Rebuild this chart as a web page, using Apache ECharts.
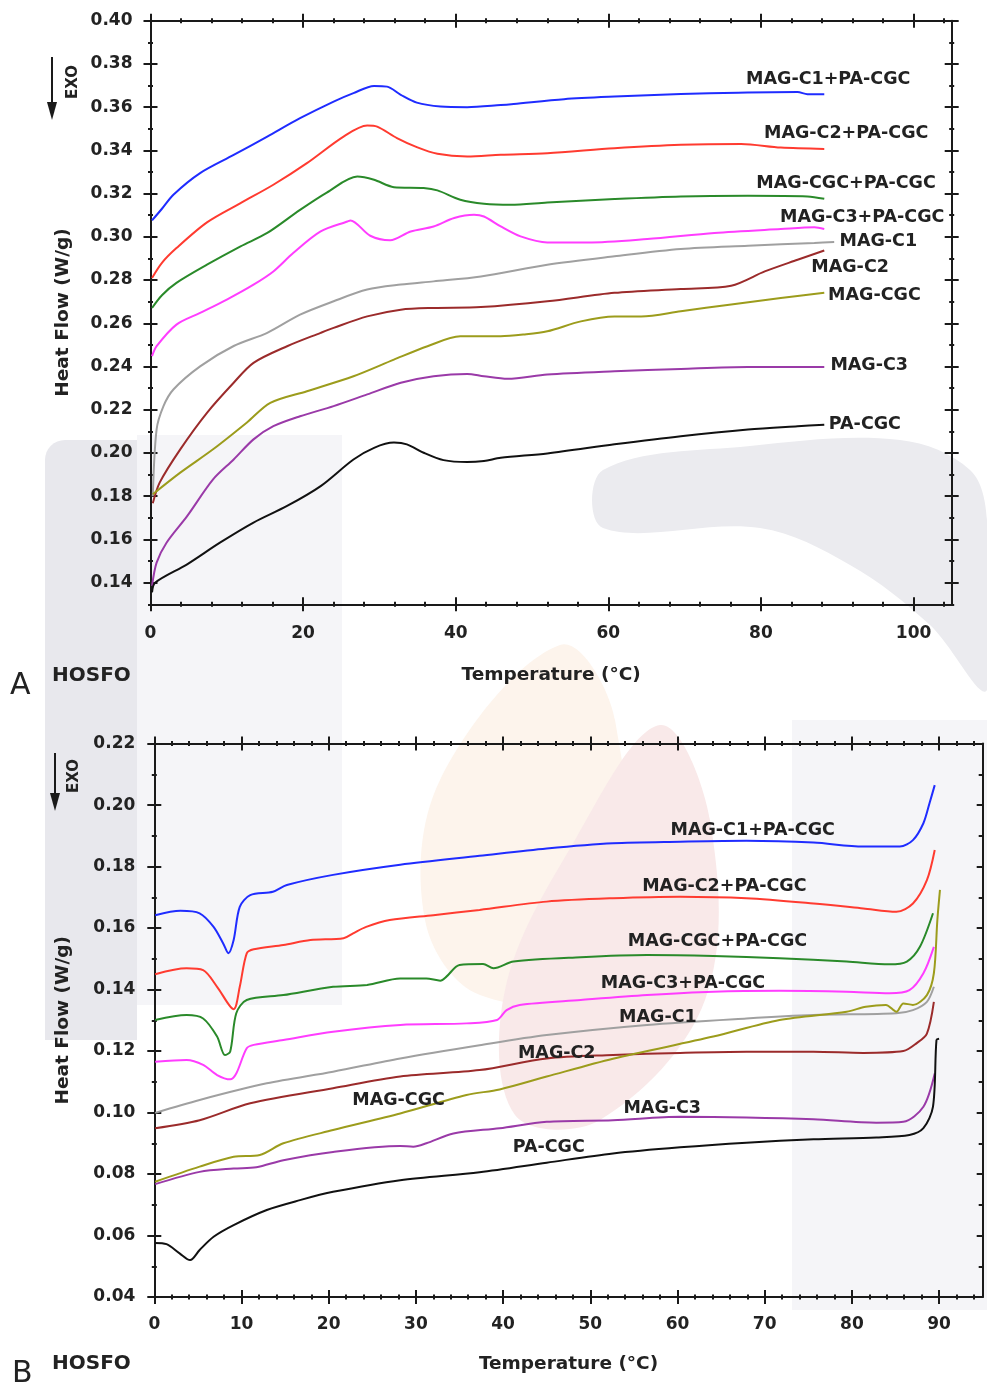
<!DOCTYPE html>
<html>
<head>
<meta charset="utf-8">
<script src="https://cdn.jsdelivr.net/npm/echarts@6/dist/echarts.min.js"></script>
<style>
html,body{margin:0;padding:0;background:#fff;}
#chart{width:987px;height:1385px;}
</style>
</head>
<body>
<div id="chart"></div>
<script>
// ---------- Panel A (top) ----------
const aXTicks = [0, 20, 40, 60, 80, 100];
const aXMinor = [0,4,8,12,16,20,24,28,32,36,40,44,48,52,56,60,64,68,72,76,80,84,88,92,96,100,104];
const aYTicks = [0.14,0.16,0.18,0.20,0.22,0.24,0.26,0.28,0.30,0.32,0.34,0.36,0.38,0.40];
const aYMinor = [0.13,0.15,0.17,0.19,0.21,0.23,0.25,0.27,0.29,0.31,0.33,0.35,0.37,0.39];

const aNames = ['MAG-C1+PA-CGC','MAG-C2+PA-CGC','MAG-CGC+PA-CGC','MAG-C3+PA-CGC','MAG-C1','MAG-C2','MAG-CGC','MAG-C3','PA-CGC'];

const aMagC1Pa = [[0.2,0.3076],[1.5,0.313],[3.0,0.3195],[6.5,0.3295],[10.9,0.3379],[15.3,0.3464],[19.6,0.3549],[24.0,0.3626],[26.6,0.3665],[29.3,0.3698],[31.0,0.3695],[32.8,0.3657],[34.9,0.3621],[38.0,0.3603],[41.5,0.360],[45.9,0.361],[47.6,0.3615],[54.2,0.3637],[60.8,0.3649],[69.5,0.3661],[77.0,0.3667],[84.8,0.367],[86.1,0.366],[88.3,0.366]];
const aMagC2Pa = [[0.2,0.281],[1.5,0.288],[3.4,0.2948],[7.4,0.3067],[11.8,0.3156],[16.1,0.3241],[20.5,0.3341],[25.3,0.3464],[28.4,0.3515],[29.7,0.351],[32.3,0.3457],[34.9,0.3415],[37.6,0.3384],[41.5,0.3372],[45.9,0.338],[52.0,0.3387],[60.8,0.341],[69.5,0.3426],[77.4,0.343],[82.6,0.3413],[88.3,0.3407]];
const aMagCgcPa = [[0.2,0.2671],[1.5,0.273],[3.4,0.2787],[7.4,0.2871],[11.8,0.2956],[15.3,0.3018],[19.6,0.3125],[23.1,0.3205],[27.1,0.3279],[29.3,0.3264],[31.9,0.323],[35.8,0.3226],[37.6,0.3215],[40.6,0.3172],[43.7,0.3153],[47.2,0.3148],[52.0,0.3159],[60.8,0.3175],[69.5,0.3187],[78.3,0.319],[86.1,0.3187],[88.3,0.3176]];
const aMagC3Pa = [[0.2,0.2448],[0.8,0.2494],[3.4,0.2594],[6.5,0.2648],[10.0,0.271],[13.5,0.2779],[16.1,0.284],[18.7,0.2925],[22.3,0.3025],[25.8,0.3071],[26.2,0.3076],[28.8,0.3005],[31.4,0.2984],[34.1,0.3025],[37.1,0.3048],[39.8,0.3087],[42.4,0.3102],[43.7,0.3094],[45.9,0.3048],[48.5,0.3002],[52.0,0.2974],[57.3,0.2974],[65.1,0.299],[73.9,0.3018],[82.6,0.3036],[87.0,0.3044],[88.3,0.3036]];
const aMagC1 = [[0.3,0.180],[0.8,0.2109],[1.7,0.2217],[3.0,0.2294],[6.5,0.2401],[10.9,0.2495],[15.3,0.2556],[19.6,0.264],[24.0,0.2702],[28.4,0.2756],[32.8,0.2779],[37.1,0.2794],[43.3,0.2817],[52.0,0.2871],[60.8,0.291],[69.5,0.2944],[78.3,0.2959],[87.0,0.2972],[89.6,0.2976]];
const aMagC2 = [[0.3,0.1767],[1.2,0.1863],[3.9,0.2017],[7.4,0.2186],[10.9,0.2325],[13.5,0.2417],[17.9,0.2494],[22.3,0.2556],[24.0,0.2579],[28.4,0.2632],[32.8,0.2663],[37.1,0.2671],[43.3,0.2675],[52.0,0.2702],[60.8,0.2741],[69.5,0.2759],[76.1,0.2774],[80.5,0.284],[84.8,0.2894],[88.3,0.2937]];
const aMagCgc = [[0.3,0.1809],[3.9,0.1909],[8.2,0.2017],[12.6,0.214],[15.7,0.2232],[20.5,0.2286],[26.6,0.2355],[31.9,0.2432],[36.3,0.2494],[40.6,0.254],[45.9,0.254],[48.9,0.2548],[52.0,0.2563],[56.4,0.2609],[60.8,0.2632],[64.3,0.2632],[69.5,0.2656],[76.1,0.2687],[82.6,0.2717],[88.3,0.2741]];
const aMagC3 = [[0.2,0.1385],[0.8,0.1493],[2.1,0.1585],[4.8,0.1708],[8.2,0.1878],[10.9,0.197],[13.5,0.2063],[16.1,0.2124],[19.6,0.217],[24.0,0.2217],[28.4,0.2271],[32.8,0.2325],[37.1,0.2355],[41.5,0.2366],[43.7,0.2355],[46.8,0.2343],[52.0,0.2363],[60.8,0.2378],[69.5,0.2389],[78.3,0.2398],[88.3,0.2398]];
const aPaCgc = [[0.2,0.1355],[0.6,0.14],[4.8,0.1485],[9.1,0.1585],[13.5,0.1678],[17.9,0.1755],[22.3,0.1847],[26.6,0.197],[29.3,0.2024],[31.9,0.2048],[33.6,0.204],[35.8,0.2001],[38.4,0.1967],[41.5,0.1958],[43.7,0.1963],[45.9,0.1978],[52.0,0.1998],[60.8,0.204],[69.5,0.2078],[78.3,0.2109],[84.8,0.2124],[88.3,0.2131]];
// label anchor (left end, vertical middle) in data units
const aLabelAt = [[78.05,0.3726],[80.4,0.3477],[79.4,0.3246],[82.5,0.3088],[90.3,0.2977],[86.6,0.2857],[88.8,0.2728],[89.1,0.2405],[88.9,0.2132]];

// ---------- Panel B (bottom) ----------
const bXTicks = [0,10,20,30,40,50,60,70,80,90];
const bXMinor = [0,2,4,6,8,10,12,14,16,18,20,22,24,26,28,30,32,34,36,38,40,42,44,46,48,50,52,54,56,58,60,62,64,66,68,70,72,74,76,78,80,82,84,86,88,90,92,94];
const bYTicks = [0.04,0.06,0.08,0.10,0.12,0.14,0.16,0.18,0.20,0.22];
const bYMinor = [0.05,0.07,0.09,0.11,0.13,0.15,0.17,0.19,0.21];

const bMagC1Pa = [[0.1,0.1642],[3.0,0.1656],[5.2,0.1648],[6.8,0.1604],[7.9,0.155],[8.5,0.1518],[9.1,0.1561],[9.8,0.1669],[11.0,0.1707],[13.6,0.1718],[15.2,0.174],[20.5,0.1773],[28.2,0.1806],[37.3,0.1835],[45.0,0.1859],[52.6,0.1876],[60.3,0.1881],[67.9,0.1884],[75.6,0.1878],[81.3,0.1865],[85.5,0.1865],[87.0,0.1886],[88.2,0.1941],[88.9,0.2006],[89.5,0.2065]];
const bMagC2Pa = [[0.1,0.145],[3.7,0.1469],[5.6,0.1463],[7.2,0.1409],[9.1,0.1336],[9.8,0.1409],[10.6,0.1518],[11.4,0.1531],[14.8,0.1545],[17.9,0.1561],[21.7,0.1567],[22.8,0.1583],[24.3,0.1604],[27.0,0.1626],[32.0,0.1642],[37.3,0.1659],[45.0,0.1686],[52.6,0.1697],[60.3,0.1702],[67.9,0.1697],[75.6,0.168],[81.3,0.1664],[85.1,0.1653],[87.0,0.168],[88.6,0.1756],[89.5,0.1854]];
const bMagCgcPa = [[0.1,0.1301],[3.7,0.1317],[5.6,0.1306],[7.2,0.1247],[8.1,0.1187],[8.7,0.1198],[9.4,0.1323],[10.6,0.1366],[14.8,0.1382],[20.5,0.1409],[24.4,0.1415],[28.2,0.1436],[31.2,0.1436],[32.8,0.1429],[33.5,0.1442],[35.0,0.148],[37.7,0.1483],[38.9,0.1469],[41.2,0.1491],[48.9,0.1505],[56.5,0.1512],[64.1,0.1509],[71.7,0.1502],[79.4,0.1491],[84.3,0.1482],[86.3,0.1491],[87.8,0.1539],[89.3,0.1648]];
const bMagC3Pa = [[0.1,0.1165],[3.7,0.1171],[5.6,0.1155],[7.2,0.1122],[8.7,0.1108],[9.4,0.1127],[10.6,0.1209],[11.4,0.122],[14.8,0.1236],[20.5,0.1263],[28.2,0.1285],[35.8,0.129],[39.3,0.1301],[40.4,0.1333],[41.9,0.135],[48.9,0.1366],[56.5,0.1382],[64.1,0.1393],[71.7,0.1396],[79.4,0.1393],[84.3,0.1388],[86.6,0.1398],[88.2,0.1453],[89.4,0.1539]];
const bMagC1 = [[0.1,0.0999],[5.2,0.1041],[12.9,0.1095],[20.5,0.1133],[28.2,0.1176],[37.3,0.1219],[45.0,0.1252],[56.5,0.1285],[67.9,0.1306],[75.6,0.1317],[85.1,0.1323],[87.0,0.1333],[88.6,0.136],[89.4,0.1409]];
const bMagC2 = [[0.1,0.0949],[5.2,0.0975],[11.0,0.103],[20.5,0.1079],[28.2,0.1117],[37.3,0.1138],[45.0,0.1176],[52.6,0.1187],[60.3,0.1194],[67.9,0.1198],[75.6,0.1198],[81.3,0.1194],[85.9,0.12],[87.4,0.1225],[88.6,0.1257],[89.4,0.136]];
const bMagCgc = [[0.1,0.0775],[5.2,0.0824],[9.1,0.0856],[12.1,0.0862],[14.8,0.09],[20.5,0.0943],[28.2,0.0997],[35.8,0.1057],[39.6,0.1075],[45.0,0.1117],[52.6,0.1175],[64.1,0.1247],[71.7,0.1301],[79.4,0.1328],[81.6,0.1344],[83.9,0.135],[85.1,0.1328],[85.9,0.1355],[87.0,0.135],[88.6,0.1382],[89.4,0.1453],[89.8,0.1626],[90.1,0.1724]];
const bMagC3 = [[0.1,0.0767],[5.2,0.0807],[9.1,0.0818],[11.7,0.0822],[14.8,0.0845],[20.5,0.0872],[28.2,0.0891],[29.7,0.0889],[31.2,0.09],[34.3,0.0932],[39.6,0.0949],[45.0,0.097],[52.6,0.0975],[60.3,0.0986],[67.9,0.0984],[75.6,0.0978],[82.8,0.0967],[85.9,0.097],[88.2,0.1019],[89.5,0.1127]];
const bPaCgc = [[0.1,0.0576],[1.4,0.0572],[2.9,0.0542],[4.1,0.052],[5.2,0.0553],[6.8,0.0596],[9.1,0.0634],[12.9,0.0683],[16.7,0.0715],[20.5,0.0742],[28.2,0.078],[37.3,0.0806],[45.0,0.0837],[52.6,0.0867],[60.3,0.0887],[67.9,0.0902],[75.6,0.0913],[82.8,0.0919],[86.6,0.0927],[88.2,0.0949],[89.3,0.1019],[89.7,0.1236],[90.0,0.124]];
const bLabelAt = [[59.2,0.1919],[55.95,0.1734],[54.3,0.1558],[51.2,0.142],[53.3,0.1308],[41.7,0.1193],[22.7,0.104],[53.8,0.1014],[41.1,0.0885]];

const colors = ['#1f2cff','#ff3b30','#2a8a2a','#ff3dff','#a0a0a0','#9b2b2b','#9c9c1c','#9a3aa8','#111111'];

// ---------- build ----------
const FONT = 'DejaVu Sans';
const AX = '#1a1a1a';
const tickText = {fontFamily: FONT, fontWeight: 'bold', fontSize: 17, color: '#222'};
const PER = 6; // axes per dimension per panel

function axisSet(kind, grid, o) {
  const pos = kind === 'x' ? ['bottom','top'] : ['left','right'];
  const list = [];
  list.push({
    type:'value', gridIndex:grid, position:pos[0], min:o.min, max:o.max,
    axisLine:{show:true, onZero:false, lineStyle:{color:AX, width:2}},
    axisTick:{show:false}, splitLine:{show:false},
    axisLabel:Object.assign({show:true, customValues:o.majors, formatter:o.fmt, margin:o.margin}, tickText),
    name:o.name, nameLocation:'middle', nameGap:o.nameGap,
    nameTextStyle:{fontFamily:FONT, fontWeight:'bold', fontSize:18.5, color:'#222'}
  });
  list.push({
    type:'value', gridIndex:grid, position:pos[1], min:o.min, max:o.max, offset:0,
    axisLine:{show:true, onZero:false, lineStyle:{color:AX, width:2}},
    axisTick:{show:false}, axisLabel:{show:false}, splitLine:{show:false}
  });
  for (let s = 0; s < 2; s++) {
    const inwardOnly = s === 1 && o.oppInward;
    list.push({
      type:'value', gridIndex:grid, position:pos[s], min:o.min, max:o.max,
      offset: inwardOnly ? 0 : -7,
      axisLine:{show:false, onZero:false},
      axisTick:{show:true, inside: inwardOnly, customValues:o.majors, length: inwardOnly ? 6 : 14, lineStyle:{color:AX, width:2}},
      axisLabel:{show:false}, splitLine:{show:false}
    });
    list.push({
      type:'value', gridIndex:grid, position:pos[s], min:o.min, max:o.max,
      offset: inwardOnly ? 0 : -2.5,
      axisLine:{show:false, onZero:false},
      axisTick:{show:true, inside: inwardOnly, customValues:o.minors, length: inwardOnly ? 4 : 5, lineStyle:{color:AX, width:2}},
      axisLabel:{show:false}, splitLine:{show:false}
    });
  }
  return list;
}

const xAxes = [].concat(
  axisSet('x', 0, {min:0, max:105, majors:aXTicks, minors:aXMinor, fmt:v=>String(Math.round(v)), margin:21, name:'Temperature (°C)', nameGap:61}),
  axisSet('x', 1, {min:0, max:95, majors:bXTicks, minors:bXMinor, fmt:v=>String(Math.round(v)), margin:19, name:'Temperature (°C)', nameGap:58})
);
const yAxes = [].concat(
  axisSet('y', 0, {min:0.13, max:0.40, majors:aYTicks, minors:aYMinor, fmt:v=>v.toFixed(2), margin:18, name:'Heat Flow (W/g)', nameGap:78}),
  axisSet('y', 1, {min:0.04, max:0.22, majors:bYTicks, minors:bYMinor, fmt:v=>v.toFixed(2), margin:19, name:'Heat Flow (W/g)', nameGap:82, oppInward:true})
);

const aData = [aMagC1Pa,aMagC2Pa,aMagCgcPa,aMagC3Pa,aMagC1,aMagC2,aMagCgc,aMagC3,aPaCgc];
const bData = [bMagC1Pa,bMagC2Pa,bMagCgcPa,bMagC3Pa,bMagC1,bMagC2,bMagCgc,bMagC3,bPaCgc];

function mkSeries(data, labels, panel) {
  const axIdx = panel * PER;
  return data.map((d, i) => ({
    type:'line', name: aNames[i] + (panel ? ' B' : ' A'),
    xAxisIndex: axIdx, yAxisIndex: axIdx,
    data: d, showSymbol:false, smooth:0.3,
    lineStyle:{color:colors[i], width:2}, itemStyle:{color:colors[i]},
    z: 3,
    markPoint:{
      symbol:'circle', symbolSize:0, silent:true,
      label:{show:true, position:'right', distance:0, formatter:'{b}',
        fontFamily:FONT, fontWeight:'bold', fontSize:17.5, color:'#222'},
      data:[{name:aNames[i], coord:labels[i]}]
    }
  }));
}

const series = [].concat(mkSeries(aData, aLabelAt, 0), mkSeries(bData, bLabelAt, 1));

function exo(x, yTop, yBot, tx, ty) {
  return [
    {type:'line', shape:{x1:x, y1:yTop, x2:x, y2:yBot-14}, style:{stroke:'#1a1a1a', lineWidth:2}},
    {type:'polygon', shape:{points:[[x-5,yBot-18],[x+5,yBot-18],[x,yBot]]}, style:{fill:'#1a1a1a'}},
    {type:'text', x:tx, y:ty, rotation:Math.PI/2,
      style:{text:'EXO', fontFamily:FONT, fontWeight:'bold', fontSize:15, fill:'#222', align:'center', verticalAlign:'middle'}}
  ];
}

// faint background watermark (decorative, behind the chart)
const watermark = [
  {type:'rect', z:-10, silent:true, shape:{x:137, y:435, width:205, height:570}, style:{fill:'#f5f5f8'}},
  {type:'rect', z:-9, silent:true, shape:{x:45, y:440, width:92, height:600, r:[20,0,0,0]}, style:{fill:'#e8e8ed'}},
  {type:'rect', z:-10, silent:true, shape:{x:792, y:720, width:195, height:590}, style:{fill:'#f5f5f8'}},
  {type:'polygon', z:-9, silent:true, shape:{smooth:0.35, points:[[603,470],[750,446],[900,440],[970,470],[987,520],[987,690],[930,625],[850,565],[760,528],[603,528]]}, style:{fill:'#ebebef'}},
  {type:'polygon', z:-9, silent:true, shape:{smooth:0.35, points:[[560,645],[615,720],[620,990],[480,995],[425,920],[440,780]]}, style:{fill:'#fdf4ec'}},
  {type:'polygon', z:-8, silent:true, shape:{smooth:0.35, points:[[660,725],[710,820],[705,1000],[600,1120],[515,1115],[505,990],[575,840]]}, style:{fill:'#f9e9e9'}}
];

const graphic = [].concat(
  watermark,
  exo(52, 57, 120, 73, 82),
  exo(55, 753, 811, 74, 776),
  [
    {type:'text', x:52, y:676, style:{text:'HOSFO', fontFamily:FONT, fontWeight:'bold', fontSize:20, fill:'#222', align:'left', verticalAlign:'middle'}},
    {type:'text', x:52, y:1364, style:{text:'HOSFO', fontFamily:FONT, fontWeight:'bold', fontSize:20, fill:'#222', align:'left', verticalAlign:'middle'}},
    {type:'text', x:10, y:686, style:{text:'A', fontFamily:FONT, fontSize:30, fill:'#222', align:'left', verticalAlign:'middle'}},
    {type:'text', x:12, y:1374, style:{text:'B', fontFamily:FONT, fontSize:30, fill:'#222', align:'left', verticalAlign:'middle'}}
  ]
);

const chart = echarts.init(document.getElementById('chart'), null, {renderer:'canvas'});
chart.setOption({
  animation:false,
  backgroundColor:'#ffffff',
  grid:[
    {left:150.5, top:20.7, width:801.2, height:583.6},
    {left:154.3, top:743.6, width:828.4, height:553.4}
  ],
  xAxis:xAxes,
  yAxis:yAxes,
  series:series,
  graphic:graphic
});
</script>
</body>
</html>
